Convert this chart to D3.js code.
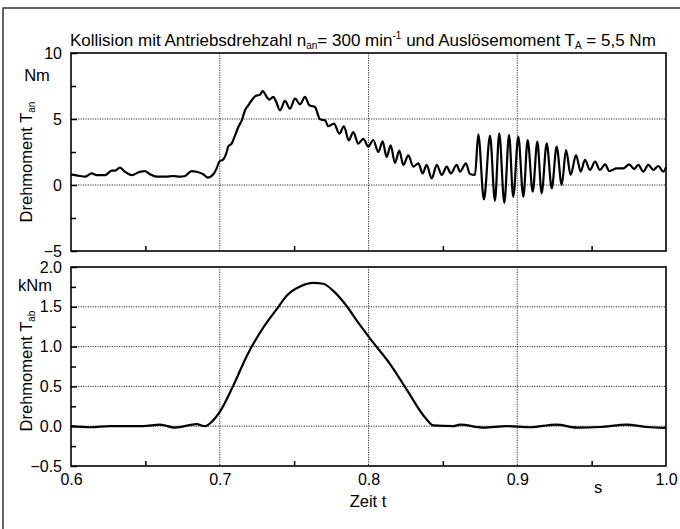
<!DOCTYPE html>
<html>
<head>
<meta charset="utf-8">
<script src="https://cdn.jsdelivr.net/npm/d3@7"></script>
<style>
  body { margin: 0; background: #fff; }
  svg { display: block; font-family: "Liberation Sans", Arial, Helvetica, sans-serif; }
  .grid line { stroke: #333; stroke-width: 1; stroke-dasharray: 1.2,1.2; }
  .tick text { font-size: 16px; fill: #000; }
  .tick line { stroke: #000; stroke-width: 1.5; }
</style>
</head>
<body>
<div id="area"></div>
<script>
// time axis (s)
var xTicks = [0.6, 0.7, 0.8, 0.9, 1.0];
var xMinor = [0.65, 0.75, 0.85, 0.95];
var xGrid = [0.7, 0.8, 0.9];

// Drehmoment T_an (Nm)
var tAn = [0.6, 0.6061, 0.6094, 0.6139, 0.6173, 0.6229, 0.6274, 0.6296, 0.6329, 0.6363,
  0.6408, 0.6464, 0.6497, 0.6531, 0.6576, 0.6632, 0.6688, 0.6733, 0.6766, 0.6811,
  0.6845, 0.6889, 0.6919, 0.6957, 0.6979, 0.6997, 0.7024, 0.7047, 0.7057, 0.708,
  0.7103, 0.7125, 0.7148, 0.717, 0.7192, 0.7215, 0.7237, 0.7271, 0.7289, 0.7316,
  0.7333, 0.736, 0.7378, 0.7405, 0.7439, 0.7472, 0.7506, 0.754, 0.7573, 0.7602,
  0.764, 0.7674, 0.7708, 0.773, 0.7768, 0.7804, 0.7835, 0.7867, 0.7898, 0.7931,
  0.7965, 0.7999, 0.8032, 0.8066, 0.8095, 0.8122, 0.8149, 0.8178, 0.8207, 0.8234,
  0.8268, 0.8301, 0.8335, 0.8364, 0.8391, 0.8425, 0.8459, 0.8492, 0.8526, 0.8553,
  0.8593, 0.8615, 0.8655, 0.8682, 0.8716, 0.8738, 0.8776, 0.8817, 0.885, 0.8879,
  0.8913, 0.8945, 0.8973, 0.9007, 0.9041, 0.907, 0.9104, 0.9135, 0.9164, 0.9198,
  0.9232, 0.9265, 0.9299, 0.9328, 0.9359, 0.9395, 0.9427, 0.9455, 0.9489, 0.9523,
  0.9556, 0.959, 0.9619, 0.9668, 0.9713, 0.9753, 0.9785, 0.9814, 0.9847, 0.9881,
  0.9915, 0.9948, 0.9982, 1.0];
var vAn = [0.81, 0.68, 0.63, 0.88, 0.75, 0.75, 1.09, 1.09, 1.31, 1.0,
  0.75, 1.0, 1.05, 0.81, 0.63, 0.63, 0.68, 0.63, 0.68, 1.05,
  1.0, 0.81, 0.56, 0.81, 1.26, 1.77, 1.94, 2.5, 2.93, 3.13,
  3.76, 4.39, 4.9, 5.66, 6.04, 6.42, 6.72, 6.85, 7.12, 6.67,
  6.47, 6.67, 6.34, 5.66, 6.37, 5.78, 6.54, 6.11, 6.67, 6.04,
  5.91, 4.98, 4.9, 4.45, 4.65, 3.89, 4.45, 3.38, 4.01, 3.13,
  3.5, 2.9, 3.41, 2.5, 3.3, 2.12, 3.0, 1.67, 2.6, 1.52,
  2.25, 1.39, 1.64, 0.88, 1.52, 0.5, 1.52, 0.76, 1.39, 0.88,
  1.52, 1.01, 1.64, 0.83, 0.76, 3.84, -1.1, 3.74, -1.2, 3.91,
  -1.35, 3.79, -0.9, 3.66, -0.9, 3.41, -0.5, 3.28, -0.63, 3.16,
  -0.25, 2.9, 0.0, 2.65, 0.76, 2.27, 1.01, 1.9, 1.14, 1.77,
  1.14, 1.56, 1.06, 1.26, 1.26, 1.56, 1.21, 1.52, 1.01, 1.52,
  1.14, 1.44, 1.01, 1.34];

// Drehmoment T_ab (kNm)
var tAb = [0.6, 0.6128, 0.6262, 0.6486, 0.6598, 0.6699, 0.6845, 0.6901, 0.6946, 0.6997,
  0.7091, 0.7181, 0.7293, 0.7383, 0.745, 0.754, 0.7629, 0.7696, 0.7763, 0.7853,
  0.7931, 0.8032, 0.8145, 0.8257, 0.838, 0.8436, 0.857, 0.8615, 0.8772, 0.8929,
  0.9086, 0.9265, 0.94, 0.9556, 0.9736, 0.987, 1.0];
var vAb = [0.0, -0.013, 0.0, 0.0, 0.02, -0.017, 0.025, 0.0, 0.055, 0.17,
  0.51, 0.88, 1.24, 1.47, 1.64, 1.755, 1.8, 1.79, 1.7, 1.51,
  1.3, 1.05, 0.78, 0.46, 0.11, 0.01, 0.0, 0.02, -0.017, 0.0,
  -0.013, 0.02, -0.017, -0.01, 0.02, -0.01, -0.02];

var anTicks = [-5, 0, 5, 10], anMinor = [-2.5, 2.5, 7.5], anGrid = [0, 5];
var abTicks = [-0.5, 0.0, 0.5, 1.0, 1.5, 2.0], abMinor = [-0.25, 0.25, 0.75, 1.25, 1.75], abGrid = [0, 0.5, 1.0, 1.5];

var width = 680, height = 529;
var left = 71, right = 666;

var svg = d3.select('#area').append('svg')
    .attr('width', width)
    .attr('height', height);

// outer frame
svg.append('rect')
    .attr('x', 3).attr('y', 8)
    .attr('width', 720).attr('height', 600)
    .attr('fill', 'none')
    .attr('stroke', '#333')
    .attr('stroke-width', 1.5);

var x = d3.scaleLinear().domain([0.6, 1.0]).range([left, right]);

function drawPanel(top, bottom, yDomain, ticks, minor, grid, fmt, ts, vs, showX) {
  var y = d3.scaleLinear().domain(yDomain).range([bottom, top]);
  var g = svg.append('g');

  // grid
  var gg = g.append('g').attr('class', 'grid');
  gg.selectAll('.gx').data(xGrid).enter().append('line')
    .attr('x1', function(d) { return x(d); }).attr('x2', function(d) { return x(d); })
    .attr('y1', top).attr('y2', bottom);
  gg.selectAll('.gy').data(grid).enter().append('line')
    .attr('x1', left).attr('x2', right)
    .attr('y1', function(d) { return y(d); }).attr('y2', function(d) { return y(d); });

  // y axis, ticks inward
  var ya = g.append('g')
    .attr('transform', 'translate(' + left + ',0)')
    .call(d3.axisLeft(y).tickValues(ticks).tickFormat(fmt).tickSize(-6).tickPadding(9));
  ya.select('.domain').remove();
  ya.selectAll('.tick line').attr('stroke-width', 2);
  var ym = g.append('g')
    .attr('transform', 'translate(' + left + ',0)')
    .call(d3.axisLeft(y).tickValues(minor).tickFormat('').tickSize(-5));
  ym.select('.domain').remove();

  // x axis at bottom
  var xa = g.append('g')
    .attr('transform', 'translate(0,' + bottom + ')')
    .call(d3.axisBottom(x).tickValues(showX ? xTicks : []).tickFormat(d3.format('.1f')).tickSize(0).tickPadding(8));
  xa.select('.domain').remove();
  var xm = g.append('g')
    .attr('transform', 'translate(0,' + bottom + ')')
    .call(d3.axisBottom(x).tickValues(xMinor).tickFormat('').tickSize(-5));
  xm.select('.domain').remove();

  // frame
  g.append('rect')
    .attr('x', left).attr('y', top)
    .attr('width', right - left).attr('height', bottom - top)
    .attr('fill', 'none')
    .attr('stroke', '#000')
    .attr('stroke-width', 1.6);

  // curve
  var line = d3.line()
    .x(function(d, i) { return x(ts[i]); })
    .y(function(d) { return y(d); })
    .curve(d3.curveMonotoneX);
  g.append('path')
    .datum(vs)
    .attr('d', line)
    .attr('fill', 'none')
    .attr('stroke', '#000')
    .attr('stroke-width', 2.2)
    .attr('stroke-linejoin', 'round');
  return y;
}

drawPanel(53, 251, [-5, 10], anTicks, anMinor, anGrid, d3.format('d'), tAn, vAn, false);
drawPanel(267, 466, [-0.5, 2.0], abTicks, abMinor, abGrid, d3.format('.1f'), tAb, vAb, true);

// title
var title = svg.append('text')
    .attr('x', 70).attr('y', 46)
    .style('font-size', '17px');
title.append('tspan').text('Kollision mit Antriebsdrehzahl n');
title.append('tspan').attr('dy', 3).style('font-size', '10px').text('an');
title.append('tspan').attr('dy', -3).text('= 300 min');
title.append('tspan').attr('dy', -7).style('font-size', '10px').text('-1');
title.append('tspan').attr('dy', 7).text(' und Auslösemoment T');
title.append('tspan').attr('dy', 3).style('font-size', '10px').text('A');
title.append('tspan').attr('dy', -3).text(' = 5,5 Nm');

// y labels
function yLabel(cx, cy, sub) {
  var t = svg.append('text')
    .attr('transform', 'translate(' + cx + ',' + cy + ') rotate(-90)')
    .attr('text-anchor', 'middle')
    .style('font-size', '16.5px');
  t.append('tspan').text('Drehmoment T');
  t.append('tspan').attr('dy', 3).style('font-size', '10px').text(sub);
}
yLabel(32, 162, 'an');
yLabel(32, 371, 'ab');

svg.append('text').attr('x', 37).attr('y', 81).attr('text-anchor', 'middle')
  .style('font-size', '16.5px').text('Nm');
svg.append('text').attr('x', 35).attr('y', 291).attr('text-anchor', 'middle')
  .style('font-size', '16.5px').text('kNm');

// x labels
svg.append('text').attr('x', 598).attr('y', 493).attr('text-anchor', 'middle')
  .style('font-size', '16.5px').text('s');
svg.append('text').attr('x', 368).attr('y', 507).attr('text-anchor', 'middle')
  .style('font-size', '16.5px').text('Zeit t');
</script>
</body>
</html>
